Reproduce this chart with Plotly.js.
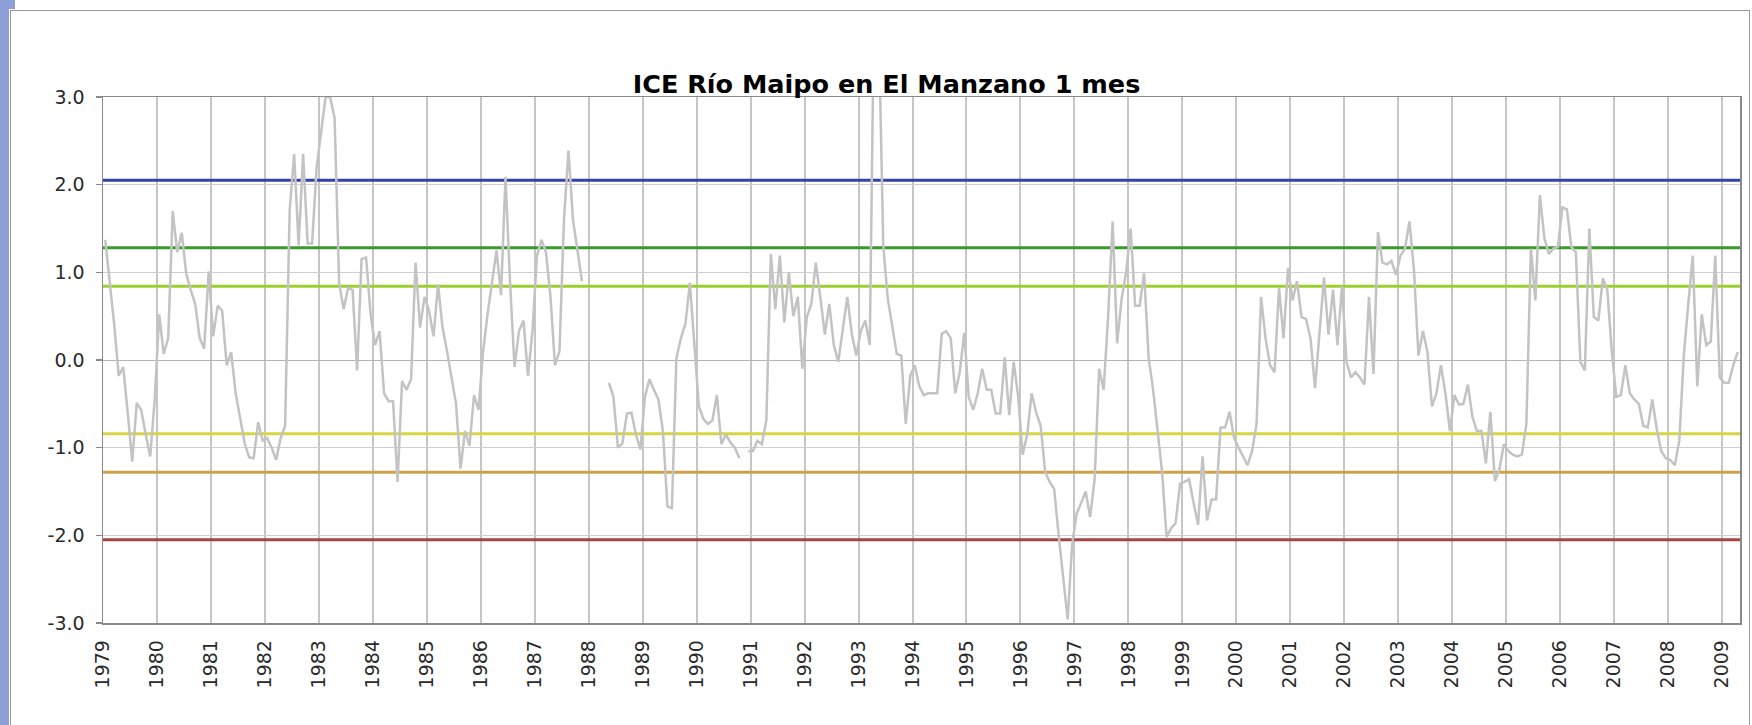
<!DOCTYPE html>
<html><head><meta charset="utf-8">
<script src="https://cdn.plot.ly/plotly-3.0.1.min.js"></script>
<style>
html,body{margin:0;padding:0;background:#fff;width:1752px;height:725px;overflow:hidden;}
#chart{position:absolute;left:0;top:0;width:1752px;height:725px;}
#strip{position:absolute;left:0;top:0;width:9px;height:725px;background:#8C9FD9;}
#stripTop{position:absolute;left:0;top:0;width:15px;height:9px;background:#8C9FD9;}
#frame{position:absolute;left:10px;top:10px;width:1740px;height:730px;border:1px solid #9A9A9A;box-sizing:border-box;pointer-events:none;}
</style></head><body>
<div id="chart"></div>
<div id="strip"></div><div id="stripTop"></div><div id="frame"></div>
<script>
// ICE (monthly index) values, Jan of first year .. Dec of last year
const ice1979_1983 = [1.37,0.9,0.4,-0.18,-0.08,-0.6,-1.16,-0.49,-0.57,-0.85,-1.10,-0.45,
 0.52,0.07,0.25,1.70,1.23,1.45,0.99,0.8,0.64,0.25,0.13,1.01,
 0.27,0.62,0.56,-0.06,0.09,-0.38,-0.69,-0.95,-1.11,-1.12,-0.71,-0.92,
 -0.89,-1.0,-1.14,-0.89,-0.75,1.70,2.35,1.31,2.35,1.33,1.33,2.2,
 2.6,3.0,3.0,2.76,0.88,0.58,0.82,0.80,-0.12,1.15,1.17,0.52];
const ice1984_1988 = [0.17,0.33,-0.38,-0.47,-0.47,-1.39,-0.24,-0.34,-0.22,1.11,0.37,0.72,
 0.56,0.27,0.86,0.37,0.1,-0.2,-0.5,-1.24,-0.81,-0.98,-0.40,-0.57,
 0.09,0.52,0.9,1.25,0.74,2.09,0.9,-0.08,0.33,0.45,-0.18,0.33,
 1.19,1.37,1.23,0.72,-0.06,0.1,1.6,2.39,1.6,1.27,0.9,null,
 null,null,null,null,-0.26,-0.42,-1.0,-0.95,-0.61,-0.6,-0.85,-1.02];
const ice1989_1993 = [-0.42,-0.22,-0.34,-0.45,-0.81,-1.67,-1.69,0.02,0.25,0.41,0.88,0.2,
 -0.53,-0.67,-0.73,-0.69,-0.40,-0.96,-0.85,-0.94,-1.0,-1.12,null,-1.04,
 -1.04,-0.92,-0.96,-0.69,1.21,0.58,1.19,0.43,1.0,0.5,0.72,-0.1,
 0.49,0.64,1.11,0.72,0.29,0.64,0.17,-0.02,0.33,0.72,0.3,0.05,
 0.33,0.45,0.17,4.3,3.8,1.3,0.7,0.4,0.07,0.05,-0.73,-0.18];
const ice1994_1998 = [-0.06,-0.3,-0.4,-0.38,-0.38,-0.38,0.3,0.33,0.25,-0.38,-0.14,0.31,
 -0.42,-0.57,-0.38,-0.1,-0.34,-0.34,-0.61,-0.61,0.03,-0.63,-0.02,-0.42,
 -1.08,-0.85,-0.38,-0.6,-0.75,-1.28,-1.39,-1.47,-2.0,-2.45,-2.96,-2.1,
 -1.75,-1.63,-1.5,-1.79,-1.36,-0.1,-0.34,0.5,1.58,0.19,0.7,1.0,
 1.5,0.62,0.62,0.99,0.03,-0.34,-0.85,-1.28,-2.02,-1.92,-1.86,-1.41];
const ice1999_2003 = [-1.39,-1.36,-1.63,-1.88,-1.10,-1.83,-1.59,-1.59,-0.77,-0.77,-0.59,-0.89,
 -1.0,-1.10,-1.2,-1.04,-0.73,0.72,0.25,-0.06,-0.14,0.82,0.25,1.05,
 0.68,0.9,0.49,0.47,0.25,-0.32,0.33,0.94,0.29,0.8,0.17,0.84,
 -0.02,-0.2,-0.14,-0.2,-0.28,0.72,-0.16,1.46,1.11,1.09,1.13,0.97,
 1.19,1.27,1.58,1.03,0.05,0.33,0.09,-0.53,-0.38,-0.06,-0.38,-0.81];
const ice2004_2009 = [-0.4,-0.51,-0.5,-0.28,-0.65,-0.81,-0.81,-1.18,-0.59,-1.38,-1.25,-0.96,
 -1.04,-1.08,-1.1,-1.08,-0.73,1.27,0.68,1.88,1.39,1.21,1.27,1.29,
 1.74,1.72,1.29,1.23,-0.02,-0.12,1.5,0.49,0.45,0.93,0.8,0.09,
 -0.42,-0.40,-0.06,-0.38,-0.45,-0.5,-0.75,-0.77,-0.45,-0.79,-1.04,-1.12,
 -1.14,-1.2,-0.92,0.05,0.64,1.19,-0.3,0.52,0.17,0.21,1.19,-0.2,
 -0.26,-0.26,-0.06,0.09];

const startYear = 1979;
const years = [];
for (let y = 1979; y <= 2009; y++) years.push(y);
const yearLabels = years.map(String);
const yTickValues = [-3, -2, -1, 0, 1, 2, 3];
const yTickLabels = ['-3.0', '-2.0', '-1.0', '0.0', '1.0', '2.0', '3.0'];
const thresholdValues = [2.05, 1.28, 0.84, -0.84, -1.28, -2.05];
const thresholdColors = ['#3343A8', '#3A9A2C', '#9CCF2E', '#D6D645', '#CCA24A', '#A94444'];
const titleText = 'ICE Río Maipo en El Manzano 1 mes';

const ice = [].concat(ice1979_1983, ice1984_1988, ice1989_1993, ice1994_1998, ice1999_2003, ice2004_2009);
const xs = ice.map((v, i) => startYear + (i + 0.5) / 12);
const xEnd = startYear + ice.length / 12;

const traces = thresholdValues.map((v, k) => ({
  type: 'scatter', mode: 'lines', x: [startYear, xEnd], y: [v, v],
  line: {color: thresholdColors[k], width: 3}, hoverinfo: 'skip'
}));
traces.push({
  type: 'scatter', mode: 'lines', x: xs, y: ice, connectgaps: false,
  line: {color: '#C3C3C3', width: 2.5}
});

const tickFont = {family: 'DejaVu Sans, Verdana, sans-serif', size: 19, color: '#2a2a2a'};
const layout = {
  width: 1752, height: 725,
  margin: {l: 103, r: 12, t: 97, b: 102, pad: 0},
  paper_bgcolor: 'rgba(0,0,0,0)', plot_bgcolor: '#ffffff',
  showlegend: false,
  title: {text: '<b>' + titleText + '</b>', font: {family: 'DejaVu Sans, Verdana, sans-serif', size: 25.5, color: '#000'},
          x: 0.506, xref: 'container', xanchor: 'center', y: 1 - 84 / 725, yref: 'container', yanchor: 'middle'},
  xaxis: {range: [startYear, xEnd], tickmode: 'array', tickvals: years, ticktext: yearLabels, tickangle: -90,
          showgrid: true, gridcolor: '#C6C6C6', gridwidth: 2, zeroline: false,
          showline: true, linecolor: '#8A8A8A', linewidth: 1.5, mirror: true,
          ticks: '', tickfont: tickFont, ticklabelstandoff: 8},
  yaxis: {range: [-3, 3], tickmode: 'array', tickvals: yTickValues, ticktext: yTickLabels,
          showgrid: true, gridcolor: '#CFCFCF', gridwidth: 1,
          zeroline: true, zerolinecolor: '#B4B4B4', zerolinewidth: 1,
          showline: true, linecolor: '#8A8A8A', linewidth: 1.5, mirror: true,
          ticks: 'outside', ticklen: 6, tickcolor: '#8A8A8A', tickwidth: 1.5,
          tickfont: tickFont, ticklabelstandoff: 7}
};
Plotly.newPlot('chart', traces, layout, {staticPlot: true, displayModeBar: false});
</script></body></html>
